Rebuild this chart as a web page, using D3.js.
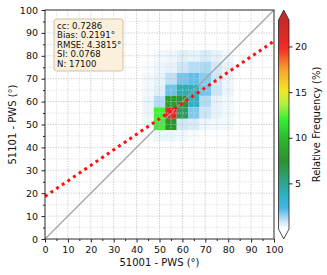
<!DOCTYPE html>
<html lang="en">
<head>
  <meta charset="UTF-8">
  <title>51001 vs 51101 PWS</title>
  <style>
    html, body { margin: 0; padding: 0; background: #fff; }
    svg { display: block; }
    text { font-family: "DejaVu Sans", sans-serif; fill: #111; }
  </style>
</head>
<body>
  <svg class="chart"></svg>
  <script src="https://cdnjs.cloudflare.com/ajax/libs/d3/7.8.5/d3.min.js"></script>
  <script>
    // bin centres (degrees), 5 deg bins
    const xBins = [45, 50, 55, 60, 65, 70, 75, 80];
    const yBins = [80, 75, 70, 65, 60, 55, 50, 45];
    // relative frequency (%) per row (y bin) and column (x bin)
    const freq80 = [0.0, 0.2, 0.3, 0.5, 0.4, 0.6, 0.4, 0.2];
    const freq75 = [0.1, 0.3, 0.4, 0.8, 1.1, 1.2, 0.7, 0.4];
    const freq70 = [0.2, 0.4, 1.0, 1.8, 2.0, 1.6, 0.8, 0.3];
    const freq65 = [0.2, 0.5, 1.9, 4.2, 4.0, 1.8, 0.8, 0.3];
    const freq60 = [0.3, 1.1, 8.2, 7.2, 3.8, 1.1, 0.4, 0.2];
    const freq55 = [0.3, 12.2, 21.0, 6.2, 1.7, 0.8, 0.4, 0.2];
    const freq50 = [0.2, 12.2, 7.8, 0.7, 0.6, 0.3, 0.2, 0.2];
    const freq45 = [0.1, 0.3, 0.3, 0.2, 0.1, 0.0, 0.0, 0.0];
    const freqRows = [freq80, freq75, freq70, freq65, freq60, freq55, freq50, freq45];

    const axisTicks = [0, 10, 20, 30, 40, 50, 60, 70, 80, 90, 100];
    const minorTicks = [5, 15, 25, 35, 45, 55, 65, 75, 85, 95];
    const cbTicks = [5, 10, 15, 20];
    const fitX = [0, 100];
    const fitY = [18.6, 86.4];
    const oneToOne = [0, 100];
    const statLines = ["cc: 0.7286", "Bias: 0.2191\u00b0", "RMSE: 4.3815\u00b0", "SI: 0.0768", "N: 17100"];

    // colour map
    const cmapStops = [0, 1.0, 2.3, 3.8, 5.5, 7.5, 10, 12, 13.8, 15.3, 17.5, 19.8, 22.9];
    const cmapColors = ["#ffffff", "#c0e0f6", "#44b6e6", "#2cb0c4", "#2ea27a", "#2a922e", "#2cbc2c",
      "#34f034", "#b8f040", "#f6e424", "#f8a030", "#f42a24", "#c42a2a"];
    const vMin = 0, vMax = 22.9;

    (function () {
      const W = 327, H = 275;
      const pL = 45, pR = 274, pT = 10, pB = 239;

      const svg = d3.select("svg.chart").attr("width", W).attr("height", H);

      const x = d3.scaleLinear().domain([0, 100]).range([pL, pR]);
      const y = d3.scaleLinear().domain([0, 100]).range([pB, pT]);
      const color = d3.scaleLinear().domain(cmapStops).range(cmapColors).interpolate(d3.interpolateRgb).clamp(true);

      // heatmap cells
      const cells = [];
      freqRows.forEach((row, i) => {
        row.forEach((v, j) => { if (v > 0) cells.push({ cx: xBins[j], cy: yBins[i], v: v }); });
      });
      svg.append("g").selectAll("rect")
        .data(cells)
        .enter()
        .append("rect")
        .attr("x", d => x(d.cx - 2.5))
        .attr("y", d => y(d.cy + 2.5))
        .attr("width", d => x(d.cx + 2.5) - x(d.cx - 2.5))
        .attr("height", d => y(d.cy - 2.5) - y(d.cy + 2.5))
        .attr("fill", d => color(d.v));

      // grid
      const grid = svg.append("g").attr("fill", "none");
      function gridLines(ticks, stroke) {
        ticks.forEach(t => {
          grid.append("line").attr("x1", x(t)).attr("x2", x(t)).attr("y1", pT).attr("y2", pB)
            .attr("stroke", stroke).attr("stroke-width", 0.8).attr("stroke-dasharray", "1.2 1.4");
          grid.append("line").attr("y1", y(t)).attr("y2", y(t)).attr("x1", pL).attr("x2", pR)
            .attr("stroke", stroke).attr("stroke-width", 0.8).attr("stroke-dasharray", "1.2 1.4");
        });
      }
      gridLines(minorTicks, "#d6d6d6");
      gridLines(axisTicks, "#bdbdbd");

      // 1:1 line
      svg.append("line")
        .attr("x1", x(oneToOne[0])).attr("y1", y(oneToOne[0]))
        .attr("x2", x(oneToOne[1])).attr("y2", y(oneToOne[1]))
        .attr("stroke", "#a0a0a0").attr("stroke-width", 1.1);

      // fit line (dotted red)
      svg.append("line")
        .attr("x1", x(fitX[0])).attr("y1", y(fitY[0]))
        .attr("x2", x(fitX[1])).attr("y2", y(fitY[1]))
        .attr("stroke", "#ff1010").attr("stroke-width", 3)
        .attr("stroke-dasharray", "3 3.8");

      // frame
      svg.append("rect")
        .attr("x", pL).attr("y", pT)
        .attr("width", pR - pL).attr("height", pB - pT)
        .attr("fill", "none").attr("stroke", "#222").attr("stroke-width", 0.9);

      // axes
      const xAxis = d3.axisBottom(x).tickValues(axisTicks).tickSize(3.5).tickPadding(3.5);
      const yAxis = d3.axisLeft(y).tickValues(axisTicks).tickSize(3.5).tickPadding(3.5);
      const gx = svg.append("g").attr("transform", `translate(0,${pB})`).call(xAxis);
      const gy = svg.append("g").attr("transform", `translate(${pL},0)`).call(yAxis);
      [gx, gy].forEach(g => {
        g.select(".domain").remove();
        g.selectAll("line").attr("stroke", "#222");
        g.selectAll("text").attr("font-size", 9.5).attr("fill", "#111")
          .attr("font-family", "DejaVu Sans");
      });
      const gxm = svg.append("g").attr("transform", `translate(0,${pB})`)
        .call(d3.axisBottom(x).tickValues(minorTicks).tickSize(2).tickFormat(""));
      const gym = svg.append("g").attr("transform", `translate(${pL},0)`)
        .call(d3.axisLeft(y).tickValues(minorTicks).tickSize(2).tickFormat(""));
      [gxm, gym].forEach(g => {
        g.select(".domain").remove();
        g.selectAll("line").attr("stroke", "#222");
      });

      // axis labels
      svg.append("text")
        .attr("x", (pL + pR) / 2).attr("y", 266)
        .attr("text-anchor", "middle").attr("font-size", 10)
        .text("51001 - PWS (\u00b0)");
      svg.append("text")
        .attr("transform", `translate(15.5,${(pT + pB) / 2}) rotate(-90)`)
        .attr("text-anchor", "middle").attr("font-size", 10)
        .text("51101 - PWS (\u00b0)");

      // stats box
      const box = svg.append("g");
      box.append("rect")
        .attr("x", 54).attr("y", 19).attr("width", 69).attr("height", 52)
        .attr("rx", 2.5).attr("ry", 2.5)
        .attr("fill", "#fbf0dc").attr("stroke", "#cbbd9f").attr("stroke-width", 0.9);
      box.selectAll("text")
        .data(statLines)
        .enter()
        .append("text")
        .attr("x", 57)
        .attr("y", (d, i) => 28.5 + i * 9.6)
        .attr("font-size", 8.6)
        .text(d => d);

      // colour bar
      const cbX = 278.5, cbW = 10.5, cbTop = 20, cbBottom = 229;
      const cy = d3.scaleLinear().domain([vMin, vMax]).range([cbBottom, cbTop]);
      const grad = svg.append("defs").append("linearGradient")
        .attr("id", "cbgrad").attr("x1", 0).attr("y1", 1).attr("x2", 0).attr("y2", 0);
      d3.range(0, 1.0001, 0.02).forEach(t => {
        grad.append("stop").attr("offset", t).attr("stop-color", color(vMin + t * (vMax - vMin)));
      });
      svg.append("rect")
        .attr("x", cbX).attr("y", cbTop).attr("width", cbW).attr("height", cbBottom - cbTop)
        .attr("fill", "url(#cbgrad)");
      svg.append("path")
        .attr("d", `M${cbX},${cbTop} L${cbX + cbW / 2},${pT} L${cbX + cbW},${cbTop} Z`)
        .attr("fill", color(vMax));
      svg.append("path")
        .attr("d", `M${cbX},${cbBottom} L${cbX + cbW / 2},${pB} L${cbX + cbW},${cbBottom} Z`)
        .attr("fill", color(vMin));
      svg.append("path")
        .attr("d", `M${cbX},${cbTop} L${cbX + cbW / 2},${pT} L${cbX + cbW},${cbTop} L${cbX + cbW},${cbBottom} L${cbX + cbW / 2},${pB} L${cbX},${cbBottom} Z`)
        .attr("fill", "none").attr("stroke", "#222").attr("stroke-width", 0.8);

      const gc = svg.append("g").attr("transform", `translate(${cbX + cbW},0)`)
        .call(d3.axisRight(cy).tickValues(cbTicks).tickSize(3.5).tickPadding(2.5));
      gc.select(".domain").remove();
      gc.selectAll("line").attr("stroke", "#222");
      gc.selectAll("text").attr("font-size", 9.5).attr("fill", "#111").attr("font-family", "DejaVu Sans");

      svg.append("text")
        .attr("transform", `translate(319.5,${(cbTop + cbBottom) / 2}) rotate(-90)`)
        .attr("text-anchor", "middle").attr("font-size", 10)
        .text("Relative Frequency (%)");
    })();
  </script>
</body>
</html>
